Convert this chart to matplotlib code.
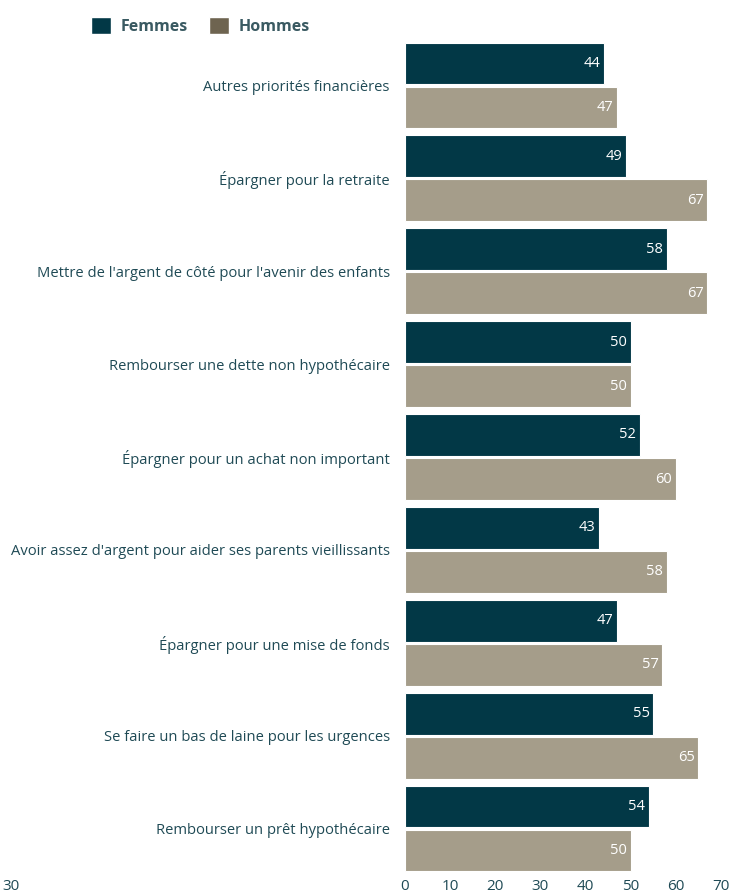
import numpy as np
import matplotlib.pyplot as plt
from matplotlib.patches import Patch

# categories and values
categories = [
    "Autres priorités financières",
    "Épargner pour la retraite",
    "Mettre de l'argent de côté pour l'avenir des enfants",
    "Rembourser une dette non hypothécaire",
    "Épargner pour un achat non important",
    "Avoir assez d'argent pour aider ses parents vieillissants",
    "Épargner pour une mise de fonds",
    "Se faire un bas de laine pour les urgences",
    "Rembourser un prêt hypothécaire",
]
femmes = [44, 49, 58, 50, 52, 43, 47, 55, 54]
hommes = [47, 67, 67, 50, 60, 58, 57, 65, 50]
xticks = [0, 10, 20, 30, 40, 50, 60, 70]

col_f = "#023846"
col_h = "#a59d8a"
col_h_legend = "#6e6450"
txt = "#1f4a55"

plt.rcParams['font.family'] = ['Open Sans', 'DejaVu Sans']

fig = plt.figure(figsize=(7.32, 8.94), dpi=100)
ax = fig.add_axes([405/732, 1-872/894, (721-405)/732, (872-42)/894])

y = np.arange(len(categories))
h = 0.45
off = 0.237
bf = ax.barh(y - off, femmes, height=h, color=col_f, edgecolor="white", linewidth=0.8)
bh = ax.barh(y + off, hommes, height=h, color=col_h, edgecolor="white", linewidth=0.8)

for bars in (bf, bh):
    for b in bars:
        w = b.get_width()
        ax.text(w - 0.8, b.get_y() + b.get_height()/2, str(int(w)),
                ha="right", va="center", color="white", fontsize=10.5)

ax.set_xlim(0, 70)
ax.set_ylim(len(categories) - 1 + 0.468, -0.468)
ax.set_yticks(y)
ax.set_yticklabels(categories)
ax.set_xticks(xticks)
ax.tick_params(axis="y", length=0, pad=11, labelsize=10.6, labelcolor=txt)
ax.tick_params(axis="x", length=0, pad=5, labelsize=11, labelcolor=txt)
for s in ax.spines.values():
    s.set_visible(False)

handles = [Patch(facecolor=col_f, edgecolor="white"), Patch(facecolor=col_h_legend, edgecolor="white")]
leg = fig.legend(handles, ["Femmes", "Hommes"], ncol=2, loc="center left",
                 bbox_to_anchor=(77/732, 1-26/894), frameon=False,
                 handlelength=1.25, handleheight=1.25, handletextpad=0.6,
                 columnspacing=1.3, prop={"weight": "bold", "size": 11.5})
for t in leg.get_texts():
    t.set_color("#3a5a62")

# stray tick label in the reference, bottom left
fig.text(2/732, 1-886/894, "30", ha="left", va="center", fontsize=11, color=txt)

fig.savefig("out.png", dpi=100)
